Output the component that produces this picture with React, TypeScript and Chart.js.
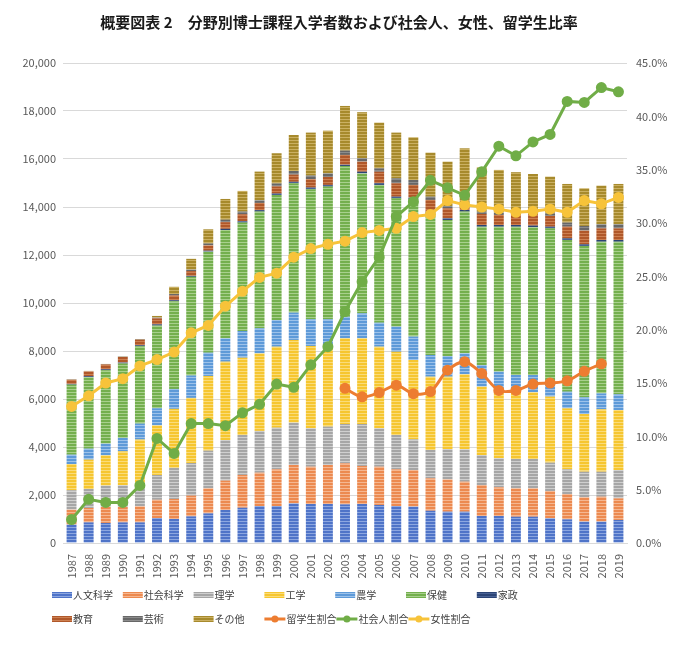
import { useEffect, useRef } from "react";
import { Chart, registerables } from "chart.js";

Chart.register(...registerables);

const TITLE = "概要図表 2　分野別博士課程入学者数および社会人、女性、留学生比率";

const years = [
  "1987", "1988", "1989", "1990", "1991", "1992", "1993", "1994", "1995", "1996", "1997",
  "1998", "1999", "2000", "2001", "2002", "2003", "2004", "2005", "2006", "2007", "2008",
  "2009", "2010", "2011", "2012", "2013", "2014", "2015", "2016", "2017", "2018", "2019",
];

// 入学者数 (人)
const jinbun = [765, 860, 835, 860, 860, 1040, 1000, 1110, 1235, 1375, 1470, 1540, 1540, 1650, 1625, 1625, 1610, 1625, 1585, 1540, 1515, 1345, 1305, 1305, 1125, 1125, 1095, 1095, 1030, 985, 890, 890, 960];
const shakai = [625, 600, 665, 640, 670, 760, 835, 865, 1045, 1225, 1365, 1390, 1530, 1600, 1555, 1625, 1710, 1585, 1595, 1530, 1525, 1350, 1345, 1250, 1290, 1195, 1185, 1185, 1135, 1055, 1015, 1040, 900];
const rigaku = [810, 790, 890, 905, 870, 1035, 1295, 1360, 1570, 1690, 1665, 1740, 1735, 1765, 1600, 1600, 1640, 1750, 1600, 1430, 1280, 1180, 1265, 1350, 1250, 1210, 1220, 1220, 1185, 1030, 1065, 1040, 1180];
const kogaku = [1090, 1225, 1265, 1415, 1910, 2065, 2460, 2710, 3110, 3265, 3220, 3230, 3375, 3445, 3430, 3360, 3570, 3570, 3400, 3470, 3305, 3055, 3015, 3125, 2850, 2915, 2805, 2780, 2750, 2540, 2405, 2600, 2500];
const nogaku = [390, 455, 485, 560, 665, 715, 830, 935, 970, 975, 1115, 1045, 1110, 1140, 1110, 1110, 900, 1040, 1000, 1045, 975, 905, 860, 875, 900, 695, 695, 720, 620, 695, 695, 665, 655];
const hoken = [2920, 2980, 3060, 3100, 3225, 3445, 3655, 4110, 4210, 4510, 4515, 4865, 5210, 5390, 5420, 5530, 6280, 5830, 5740, 5345, 5720, 5905, 5670, 5905, 5765, 6040, 6180, 6155, 6390, 6320, 6305, 6320, 6360];
const kasei = [30, 40, 40, 40, 40, 50, 40, 40, 40, 50, 60, 60, 60, 60, 70, 70, 50, 70, 70, 70, 70, 65, 70, 65, 70, 70, 70, 70, 70, 70, 70, 70, 70];
const kyoiku = [170, 200, 200, 230, 230, 250, 200, 200, 220, 280, 290, 300, 300, 300, 350, 330, 410, 420, 480, 560, 530, 490, 415, 110, 460, 420, 460, 480, 445, 485, 570, 485, 485];
const geijutsu = [10, 10, 10, 15, 15, 30, 60, 60, 80, 100, 110, 110, 120, 150, 150, 150, 180, 140, 140, 205, 205, 135, 95, 70, 95, 100, 100, 100, 110, 170, 195, 170, 170];
const sonota = [10, 10, 10, 15, 15, 70, 300, 450, 590, 865, 860, 1195, 1260, 1500, 1790, 1780, 1860, 1920, 1905, 1905, 1780, 1835, 1850, 2390, 1850, 1775, 1640, 1570, 1530, 1610, 1570, 1610, 1680];

// 比率 (%)
const ryugakusei = [null, null, null, null, null, null, null, null, null, null, null, null, null, null, null, null, 14.5, 13.7, 14.1, 14.8, 14.0, 14.2, 16.2, 17.0, 15.9, 14.3, 14.3, 14.9, 15.0, 15.2, 16.1, 16.8, null];
const shakaijin = [2.2, 4.1, 3.8, 3.8, 5.4, 9.8, 8.4, 11.2, 11.2, 11.0, 12.2, 13.0, 14.9, 14.6, 16.7, 18.4, 21.7, 24.5, 26.8, 30.6, 32.0, 34.0, 33.3, 32.6, 34.8, 37.2, 36.3, 37.6, 38.3, 41.4, 41.3, 42.7, 42.3];
const josei = [12.8, 13.8, 15.0, 15.4, 16.6, 17.2, 17.9, 19.7, 20.4, 22.2, 23.6, 24.9, 25.3, 26.8, 27.6, 28.0, 28.3, 29.1, 29.3, 29.5, 30.6, 30.8, 32.1, 31.7, 31.5, 31.3, 31.0, 31.1, 31.3, 31.0, 32.1, 31.8, 32.4];

const barSeries = [
  { label: "人文科学", data: jinbun, base: "#4F74C8", light: "#8DA7E0" },
  { label: "社会科学", data: shakai, base: "#EC8A50", light: "#F5B791" },
  { label: "理学", data: rigaku, base: "#A6A6A6", light: "#CFCFCF" },
  { label: "工学", data: kogaku, base: "#F6C630", light: "#FADC7A" },
  { label: "農学", data: nogaku, base: "#5E9AD8", light: "#9DC2EA" },
  { label: "保健", data: hoken, base: "#74AF4E", light: "#A8D08D" },
  { label: "家政", data: kasei, base: "#2B4475", light: "#4A6396" },
  { label: "教育", data: kyoiku, base: "#B0582A", light: "#CD8052" },
  { label: "芸術", data: geijutsu, base: "#676767", light: "#8C8C8C" },
  { label: "その他", data: sonota, base: "#A78A2C", light: "#CBB062" },
];

const lineSeries = [
  { label: "留学生割合", data: ryugakusei, color: "#ED7D31", tension: 0.3 },
  { label: "社会人割合", data: shakaijin, color: "#70AD47", tension: 0 },
  { label: "女性割合", data: josei, color: "#F7C33A", tension: 0 },
];

const FONT = '"Noto Sans CJK JP", "Noto Sans", sans-serif';

function makePattern(base: string, light: string) {
  const c = document.createElement("canvas");
  c.width = 4;
  c.height = 3;
  const g = c.getContext("2d")!;
  g.fillStyle = base;
  g.fillRect(0, 0, 4, 3);
  g.fillStyle = light;
  g.fillRect(0, 2, 4, 1);
  return g.createPattern(c, "repeat")!;
}

const App = () => {
  const canvasRef = useRef<HTMLCanvasElement | null>(null);
  const chartRef = useRef<Chart | null>(null);

  useEffect(() => {
    if (!canvasRef.current) return;
    const patterns = barSeries.map((s) => makePattern(s.base, s.light));

    // title + legend drawn in a grid like the Excel original
    const decor = {
      id: "decor",
      afterDraw(chart: any) {
        const ctx = chart.ctx;
        const area = chart.chartArea;
        ctx.save();
        ctx.fillStyle = "#1a1a1a";
        ctx.font = `bold 15px ${FONT}`;
        ctx.textAlign = "center";
        ctx.textBaseline = "middle";
        ctx.fillText(TITLE, 339, 22);

        ctx.font = `10px ${FONT}`;
        ctx.textAlign = "left";
        const startX = 52;
        const colW = 70.8;
        const row1 = area.bottom + 52;
        const row2 = area.bottom + 76;
        barSeries.forEach((s, i) => {
          const row = i < 7 ? 0 : 1;
          const col = i < 7 ? i : i - 7;
          const x = startX + col * colW;
          const y = row === 0 ? row1 : row2;
          ctx.fillStyle = patterns[i];
          ctx.fillRect(x, y - 3, 20, 6);
          ctx.fillStyle = "#404040";
          ctx.fillText(s.label, x + 21, y);
        });
        let x = startX + 3 * colW;
        lineSeries.forEach((s) => {
          ctx.strokeStyle = s.color;
          ctx.lineWidth = 3;
          ctx.beginPath();
          ctx.moveTo(x, row2);
          ctx.lineTo(x + 21, row2);
          ctx.stroke();
          ctx.fillStyle = s.color;
          ctx.beginPath();
          ctx.arc(x + 10.5, row2, 3.5, 0, Math.PI * 2);
          ctx.fill();
          ctx.fillStyle = "#404040";
          ctx.fillText(s.label, x + 22, row2);
          x += 22 + ctx.measureText(s.label).width;
        });
        ctx.restore();
      },
    };

    chartRef.current = new Chart(canvasRef.current, {
      type: "bar",
      data: {
        labels: years,
        datasets: [
          ...lineSeries.map((s) => ({
            type: "line" as const,
            label: s.label,
            data: s.data,
            yAxisID: "y1",
            borderColor: s.color,
            backgroundColor: s.color,
            borderWidth: 3,
            pointRadius: 4,
            pointBackgroundColor: s.color,
            pointBorderColor: s.color,
            tension: s.tension,
            order: 0,
          })),
          ...barSeries.map((s, i) => ({
            type: "bar" as const,
            label: s.label,
            data: s.data,
            yAxisID: "y",
            backgroundColor: patterns[i],
            borderWidth: 0,
            barPercentage: 0.58,
            categoryPercentage: 1,
            order: 1,
          })),
        ],
      },
      options: {
        responsive: false,
        animation: false,
        layout: { padding: { top: 63, bottom: 64, left: 0, right: 0 } },
        plugins: {
          legend: { display: false },
          tooltip: { enabled: false },
        },
        scales: {
          x: {
            stacked: true,
            grid: { display: false },
            border: { display: true, color: "#D9D9D9" },
            ticks: {
              autoSkip: false,
              maxRotation: 90,
              minRotation: 90,
              padding: 3,
              color: "#595959",
              font: { family: FONT, size: 11 },
            },
            afterFit: (s: any) => {
              s.height = 40;
            },
          },
          y: {
            stacked: true,
            position: "left",
            min: 0,
            max: 20000,
            ticks: {
              stepSize: 2000,
              padding: 7,
              color: "#595959",
              font: { family: FONT, size: 11 },
              callback: (v: any) => Number(v).toLocaleString("en-US"),
            },
            grid: { color: "#D9D9D9", drawTicks: false },
            border: { display: false },
            afterFit: (s: any) => {
              s.width = 63;
            },
          },
          y1: {
            position: "right",
            min: 0,
            max: 45,
            ticks: {
              stepSize: 5,
              padding: 9,
              color: "#595959",
              font: { family: FONT, size: 11 },
              callback: (v: any) => `${Number(v).toFixed(1)}%`,
            },
            grid: { display: false, drawTicks: false },
            border: { display: false },
            afterFit: (s: any) => {
              s.width = 53;
            },
          },
        },
      },
      plugins: [decor],
    });

    return () => {
      if (chartRef.current) {
        chartRef.current.destroy();
        chartRef.current = null;
      }
    };
  }, []);

  return (
    <div style={{ position: "absolute", left: 0, top: 0, width: 680, height: 647, background: "#fff" }}>
      <canvas ref={canvasRef} width={680} height={647} />
    </div>
  );
};

export default App;
